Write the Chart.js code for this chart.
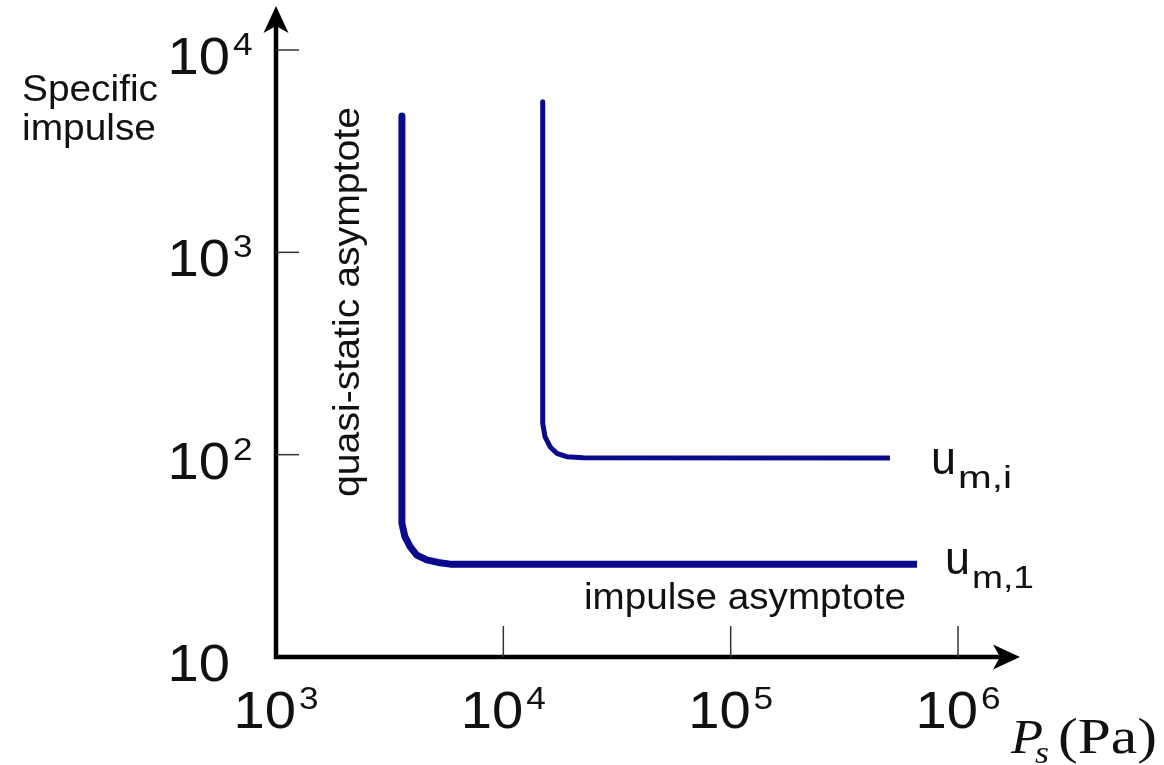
<!DOCTYPE html>
<html>
<head>
<meta charset="utf-8">
<script src="https://cdn.jsdelivr.net/npm/chart.js@4/dist/chart.umd.min.js"></script>
<style>
  html, body { margin: 0; padding: 0; background: #fff; }
  #wrap { width: 1164px; height: 765px; }
</style>
</head>
<body>
<div id="wrap"><canvas id="graf" width="1164" height="765"></canvas></div>
<script>
// values (log-log)
const pressureLow = [3580, 3580, 3690, 3890, 4160, 4600, 5270, 5930, 660000];
const impulseLow  = [4720, 45.8, 39.3, 35.1, 31.9, 30.2, 29.2, 28.7, 28.7];

const pressureHigh = [14900, 14900, 15250, 16050, 17170, 19000, 22470, 502000];
const impulseHigh  = [5550, 143, 122.7, 109.5, 101.6, 97.7, 96.6, 96.3];

const xTicks = [1e3, 1e4, 1e5, 1e6];
const xTickLabels = ['10^3', '10^4', '10^5', '10^6'];
const yTicks = [10, 100, 1000, 10000];
const yTickLabels = ['10', '10^2', '10^3', '10^4'];

const curveLabels = ['u_m,1', 'u_m,i'];
const yTitle = ['Specific', 'impulse'];
const vAsymptote = 'quasi-static asymptote';
const hAsymptote = 'impulse asymptote';

const LINE = '#0a0a8c';
const INK = '#111';
const SANS = '"Liberation Sans", Arial, sans-serif';
const SERIF = '"Liberation Serif", "Times New Roman", serif';

function pts(xs, ys) {
    return xs.map((x, i) => ({ x: x, y: ys[i] }));
}

// draw text stretched horizontally to a given width (sketch font is wide)
function fitText(ctx, str, x, y, font, width) {
    ctx.save();
    ctx.font = font;
    ctx.textAlign = 'left';
    ctx.textBaseline = 'alphabetic';
    const w = ctx.measureText(str).width;
    ctx.translate(x, y);
    ctx.scale(width ? width / w : 1, 1);
    ctx.fillText(str, 0, 0);
    ctx.restore();
}

function textW(ctx, str, font, sx) {
    ctx.save();
    ctx.font = font;
    const w = ctx.measureText(str).width * sx;
    ctx.restore();
    return w;
}

function stretched(ctx, str, x, y, font, sx) {
    ctx.save();
    ctx.font = font;
    ctx.textAlign = 'left';
    ctx.textBaseline = 'alphabetic';
    ctx.translate(x, y);
    ctx.scale(sx, 1);
    ctx.fillText(str, 0, 0);
    ctx.restore();
}

const BASE_FONT = '52px ' + SANS;
const EXP_FONT = '32px ' + SANS;

// power-of-ten label, mode 'center' or 'right' (right = right edge of the "10")
function powLabel(ctx, label, x, baseline, mode) {
    const parts = label.split('^');
    const wb = textW(ctx, parts[0], BASE_FONT, 1.08);
    const we = parts[1] ? textW(ctx, parts[1], EXP_FONT, 1.1) : 0;
    const gap = parts[1] ? 3 : 0;
    let start = mode === 'center' ? x - (wb + gap + we) / 2 : x - wb;
    stretched(ctx, parts[0], start, baseline, BASE_FONT, 1.08);
    if (parts[1]) stretched(ctx, parts[1], start + wb + gap, baseline - 19, EXP_FONT, 1.1);
}

function arrowHead(ctx, tx, ty, dir) {
    const L = 27, H = 12.5, N = 20;
    ctx.beginPath();
    if (dir === 'up') {
        ctx.moveTo(tx, ty);
        ctx.lineTo(tx - H, ty + L);
        ctx.lineTo(tx, ty + N);
        ctx.lineTo(tx + H, ty + L);
    } else {
        ctx.moveTo(tx, ty);
        ctx.lineTo(tx - L, ty - H);
        ctx.lineTo(tx - N, ty);
        ctx.lineTo(tx - L, ty + H);
    }
    ctx.closePath();
    ctx.fill();
}

const sketchAxes = {
    id: 'sketchAxes',
    afterDraw(chart) {
        const ctx = chart.ctx;
        const xs = chart.scales.x, ys = chart.scales.y;
        const ox = chart.chartArea.left, oy = chart.chartArea.bottom;

        ctx.save();
        ctx.strokeStyle = '#000';
        ctx.fillStyle = '#000';

        // axis lines
        ctx.lineWidth = 4.5;
        ctx.lineCap = 'square';
        ctx.beginPath();
        ctx.moveTo(ox, 25);
        ctx.lineTo(ox, oy);
        ctx.lineTo(1000, oy);
        ctx.stroke();
        arrowHead(ctx, ox, 6, 'up');
        arrowHead(ctx, 1020, oy, 'right');

        // inner tick marks
        ctx.lineWidth = 1.5;
        ctx.lineCap = 'butt';
        ctx.strokeStyle = '#333';
        xTicks.slice(1).forEach(v => {
            const px = xs.getPixelForValue(v);
            ctx.beginPath();
            ctx.moveTo(px, oy);
            ctx.lineTo(px, oy - 31);
            ctx.stroke();
        });
        yTicks.slice(1).forEach(v => {
            const py = ys.getPixelForValue(v);
            ctx.beginPath();
            ctx.moveTo(ox, py);
            ctx.lineTo(ox + 23, py);
            ctx.stroke();
        });

        // tick labels
        ctx.fillStyle = INK;
        xTicks.forEach((v, i) => {
            powLabel(ctx, xTickLabels[i], xs.getPixelForValue(v), 728, 'center');
        });
        yTicks.forEach((v, i) => {
            powLabel(ctx, yTickLabels[i], 230, ys.getPixelForValue(v) + 24, 'right');
        });

        // y title
        fitText(ctx, yTitle[0], 22, 101, '37px ' + SANS, 136);
        fitText(ctx, yTitle[1], 22, 140, '37px ' + SANS, 134);

        // asymptote notes
        ctx.save();
        ctx.translate(359, 497);
        ctx.rotate(-Math.PI / 2);
        fitText(ctx, vAsymptote, 0, 0, '37px ' + SANS, 390);
        ctx.restore();
        fitText(ctx, hAsymptote, 584, 609, '37px ' + SANS, 322);

        // curve names
        const sub1 = curveLabels[0].split('_');
        fitText(ctx, sub1[0], 945, 574, '46px ' + SANS, 25);
        fitText(ctx, sub1[1], 972, 588, '32px ' + SANS, 62);
        const sub2 = curveLabels[1].split('_');
        fitText(ctx, sub2[0], 931, 474, '46px ' + SANS, 25);
        fitText(ctx, sub2[1], 958, 488, '32px ' + SANS, 54);

        // x title P_s (Pa)
        fitText(ctx, 'P', 1011, 753, 'italic 48px ' + SERIF, 32);
        fitText(ctx, 's', 1035, 763, 'italic 32px ' + SERIF, 14);
        fitText(ctx, '(Pa)', 1058, 753, '50px ' + SERIF, 99);

        ctx.restore();
    }
};

const ctx = document.getElementById('graf').getContext('2d');
new Chart(ctx, {
    type: 'scatter',
    data: {
        datasets: [{
            label: 'u_m,1',
            data: pts(pressureLow, impulseLow),
            showLine: true,
            borderColor: LINE,
            borderWidth: 7,
            pointRadius: 0,
            tension: 0,
            borderJoinStyle: 'round',
            clip: false
        }, {
            label: 'u_m,i',
            data: pts(pressureHigh, impulseHigh),
            showLine: true,
            borderColor: LINE,
            borderWidth: 5,
            pointRadius: 0,
            tension: 0,
            borderJoinStyle: 'round',
            clip: false
        }]
    },
    options: {
        responsive: false,
        animation: false,
        events: [],
        layout: {
            padding: { left: 276, top: 50, right: 206, bottom: 108 }
        },
        plugins: {
            legend: { display: false },
            tooltip: { enabled: false }
        },
        scales: {
            x: { type: 'logarithmic', min: 1000, max: 1000000, display: false },
            y: { type: 'logarithmic', min: 10, max: 10000, display: false }
        }
    },
    plugins: [sketchAxes]
});
</script>
</body>
</html>
